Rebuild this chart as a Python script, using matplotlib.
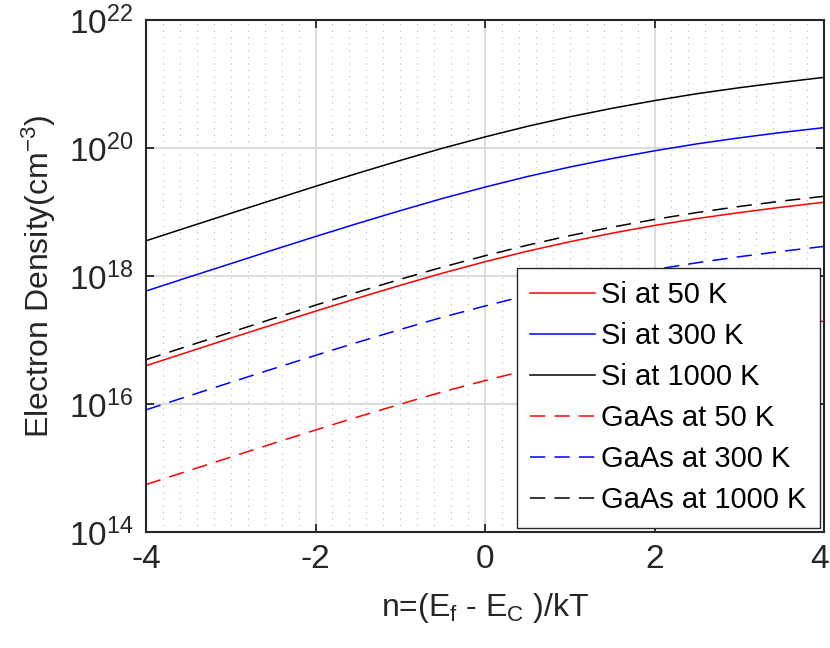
import numpy as np
import matplotlib
matplotlib.use('Agg')
import matplotlib.pyplot as plt
from matplotlib.ticker import FixedLocator
from matplotlib.transforms import ScaledTranslation

plt.rcParams['font.family'] = ['Liberation Sans', 'DejaVu Sans']
plt.rcParams['mathtext.fontset'] = 'custom'
plt.rcParams['mathtext.rm'] = 'Liberation Sans'
plt.rcParams['mathtext.it'] = 'Liberation Sans'
plt.rcParams['mathtext.default'] = 'regular'

# reduced Fermi level, (Ef - Ec)/kT
eta = [-4, -3.5, -3, -2.5, -2, -1.5, -1, -0.5, 0,
       0.5, 1, 1.5, 2, 2.5, 3, 3.5, 4]

# electron density (cm^-3)
si_50 = [3.97e16, 6.51e16, 1.07e17, 1.74e17, 2.82e17, 4.52e17, 7.15e17, 1.11e18, 1.67e18,
         2.44e18, 3.43e18, 4.67e18, 6.16e18, 7.89e18, 9.78e18, 1.19e19, 1.42e19]
si_300 = [5.82e17, 9.56e17, 1.56e18, 2.55e18, 4.14e18, 6.64e18, 1.05e19, 1.63e19, 2.45e19,
          3.58e19, 5.04e19, 6.85e19, 9.04e19, 1.16e20, 1.44e20, 1.75e20, 2.08e20]
si_1000 = [3.55e18, 5.82e18, 9.53e18, 1.55e19, 2.52e19, 4.04e19, 6.39e19, 9.93e19, 1.49e20,
           2.18e20, 3.07e20, 4.17e20, 5.50e20, 7.05e20, 8.74e20, 1.06e21, 1.27e21]
gaas_50 = [5.51e14, 9.05e14, 1.48e15, 2.42e15, 3.92e15, 6.29e15, 9.94e15, 1.55e16, 2.32e16,
           3.39e16, 4.77e16, 6.48e16, 8.56e16, 1.10e17, 1.36e17, 1.65e17, 1.97e17]
gaas_300 = [8.10e15, 1.33e16, 2.18e16, 3.55e16, 5.75e16, 9.23e16, 1.46e17, 2.27e17, 3.40e17,
            4.98e17, 7.01e17, 9.52e17, 1.26e18, 1.61e18, 2.00e18, 2.43e18, 2.90e18]
gaas_1000 = [4.93e16, 8.09e16, 1.32e17, 2.16e17, 3.50e17, 5.62e17, 8.88e17, 1.38e18, 2.07e18,
             3.03e18, 4.27e18, 5.80e18, 7.65e18, 9.80e18, 1.22e19, 1.48e19, 1.76e19]

labels = ['Si at 50 K', 'Si at 300 K', 'Si at 1000 K',
          'GaAs at 50 K', 'GaAs at 300 K', 'GaAs at 1000 K']

fig = plt.figure(figsize=(8.3, 6.48), dpi=100)
ax = fig.add_axes([146/830, 1-532/648, (824-146)/830, (532-20)/648])

dash = (0, (10, 6))
ax.plot(eta, si_50, color='red', lw=1.1, label=labels[0])
ax.plot(eta, si_300, color='blue', lw=1.1, label=labels[1])
ax.plot(eta, si_1000, color='black', lw=1.1, label=labels[2])
ax.plot(eta, gaas_50, color='red', lw=1.1, ls=dash, label=labels[3])
ax.plot(eta, gaas_300, color='blue', lw=1.1, ls=dash, label=labels[4])
ax.plot(eta, gaas_1000, color='black', lw=1.1, ls=dash, label=labels[5])

ax.set_yscale('log')
ax.set_xlim(-4, 4)
ax.set_ylim(1e14, 1e22)
ax.set_xticks([-4, -2, 0, 2, 4])
ax.set_xticklabels(['-4', '-2', '0', '2', '4'])
ax.yaxis.set_major_locator(FixedLocator([1e14, 1e16, 1e18, 1e20, 1e22]))
ax.yaxis.set_minor_locator(FixedLocator([]))
ax.xaxis.set_minor_locator(FixedLocator(np.arange(-4, 4.01, 0.2)))

dark = (0.15, 0.15, 0.15)
ax.grid(True, which='major', color=(0.85, 0.85, 0.85), lw=1.3)
ax.grid(True, which='minor', axis='x', color=(0.72, 0.72, 0.72), lw=0.8, ls=(0, (1, 4.85)))
ax.set_axisbelow(True)
ax.tick_params(which='major', direction='in', length=6, width=1.3, top=True, right=True,
               labelsize=24, colors=dark, pad=9)
ax.tick_params(which='minor', length=0)
for s in ax.spines.values():
    s.set_linewidth(1.5)
    s.set_color(dark)

# keep the last x label inside the canvas
last = ax.get_xticklabels()[-1]
last.set_transform(last.get_transform() + ScaledTranslation(-0.04, 0, fig.dpi_scale_trans))

ax.set_xlabel('n=(E$_f$ - E$_C$ )/kT', fontsize=23, color=dark, labelpad=11)
ax.set_ylabel('Electron Density(cm$^{-3}$)', fontsize=23, color=dark, labelpad=8)

leg = ax.legend(loc='lower right', fontsize=21, fancybox=False, framealpha=1,
                edgecolor=dark, borderaxespad=0.15, handlelength=2.25,
                labelspacing=0.45, handletextpad=0.2, borderpad=0.45)
leg.get_frame().set_linewidth(1.0)

fig.savefig('out.png', dpi=100)
